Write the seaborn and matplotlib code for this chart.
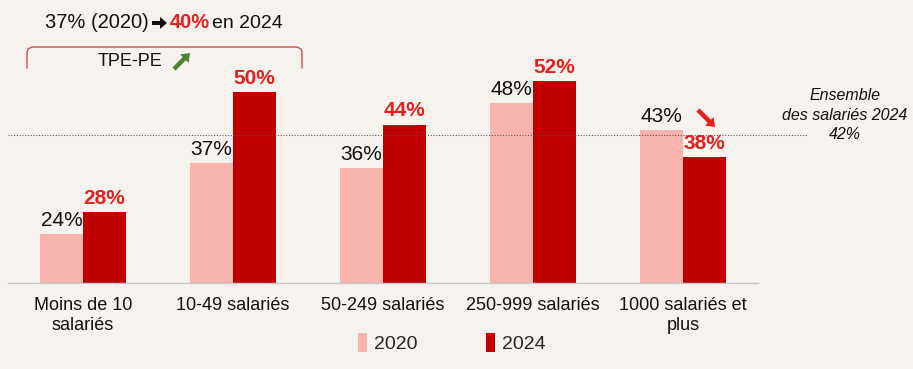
import numpy as np
import pandas as pd
import matplotlib.pyplot as plt
import seaborn as sns
from matplotlib.lines import Line2D
from matplotlib.patches import Patch, FancyArrow

# Data
categories = ["Moins de 10\nsalariés", "10-49 salariés", "50-249 salariés",
              "250-999 salariés", "1000 salariés et\nplus"]
values_2020 = [24, 37, 36, 48, 43]
values_2024 = [28, 50, 44, 52, 38]
years = ["2020", "2024"]
ensemble_2024 = 42

LIGHT = "#f9b4ad"
DARK = "#c00000"
RED_TXT = "#e3211f"
BG = "#f6f3ee"

df = pd.DataFrame({
    "cat": categories * 2,
    "year": [years[0]] * 5 + [years[1]] * 5,
    "val": values_2020 + values_2024,
})

sns.set_style("white")
plt.rcParams["font.family"] = ["Liberation Sans", "DejaVu Sans"]

W, H = 913, 369
fig = plt.figure(figsize=(W / 100, H / 100), dpi=100, facecolor=BG)
ax = fig.add_axes([8 / W, 1 - 283 / H, 800 / W, 283 / H])
ax.set_facecolor(BG)

sns.barplot(data=df, x="cat", y="val", hue="year", order=categories,
            palette=[LIGHT, DARK], width=0.573, saturation=1, ax=ax,
            legend=False, edgecolor="none")

ax.set_xlim(-0.5, 4.5 + 50 / 150)
ax.set_ylim(15, 66.8)
ax.set_yticks([])
ax.set_ylabel("")
ax.set_xlabel("")
for s in ["top", "right", "left"]:
    ax.spines[s].set_visible(False)
ax.spines["bottom"].set_bounds(-0.5, 4.5)
ax.spines["bottom"].set_color("#c8c8c8")
ax.spines["bottom"].set_linewidth(1)
ax.set_xticks(np.arange(-0.5, 5, 1), minor=True)
ax.tick_params(axis="x", which="minor", length=4, color="#c8c8c8", direction="out")
ax.tick_params(axis="x", which="major", length=0, pad=10)
ax.set_xticks(range(5))
ax.set_xticklabels(categories, fontsize=13, linespacing=1.25, color="#111111")

# value labels
for cont, yr in zip(ax.containers, years):
    for bar in cont:
        v = bar.get_height()
        x = bar.get_x() + bar.get_width() / 2
        if yr == "2020":
            ax.annotate(f"{v:.0f}%", (x, v), xytext=(0, 3), textcoords="offset points",
                        ha="center", va="bottom", fontsize=15, color="#111111")
        else:
            ax.annotate(f"{v:.0f}%", (x, v), xytext=(0, 3), textcoords="offset points",
                        ha="center", va="bottom", fontsize=15, color=RED_TXT,
                        fontweight="bold")

# ensemble line
ax.plot([-0.5, 4.5 + 50 / 150], [ensemble_2024, ensemble_2024], ls=(0, (1, 1.5)),
        color="#555555", lw=0.8, clip_on=False, zorder=3)
fig.text(845 / W, 1 - 115 / H, f"Ensemble\ndes salariés 2024\n{ensemble_2024}%",
         ha="center", va="center", fontsize=11.5, style="italic", linespacing=1.4,
         color="#111111")


def arrow(x0, y0, x1, y1, color, tail=4.5, head_w=12, head_l=8):
    # pixel coords (from top-left) -> inches
    fig.add_artist(FancyArrow(x0 / 100, (H - y0) / 100, (x1 - x0) / 100, (y0 - y1) / 100,
                              width=tail / 100, head_width=head_w / 100,
                              head_length=head_l / 100, length_includes_head=True,
                              color=color, lw=0, transform=fig.dpi_scale_trans))


# red arrow near 1000+
arrow(698, 110, 715, 127, RED_TXT)

# top annotation
ty = 1 - 23 / H
fig.text(45 / W, ty, "37% (2020)", ha="left", va="center", fontsize=14.5, color="#111111")
arrow(152, 23, 167, 23, "#111111", tail=4, head_w=12, head_l=7)
fig.text(170 / W, ty, "40%", ha="left", va="center", fontsize=14.5, color=RED_TXT,
         fontweight="bold")
fig.text(212 / W, ty, "en 2024", ha="left", va="center", fontsize=14, color="#111111")

# bracket
bx = [27, 27, 28, 32, 297, 301, 302, 302]
by = [68, 52, 49, 47, 47, 49, 52, 68]
fig.add_artist(Line2D([x / W for x in bx], [1 - y / H for y in by],
                      transform=fig.transFigure, color="#c9504f", lw=1))
fig.text(130 / W, 1 - 61 / H, "TPE-PE", ha="center", va="center", fontsize=13,
         color="#111111")
arrow(174, 69, 190, 53, "#548235")

# legend
handles = [Patch(facecolor=LIGHT, edgecolor="none"), Patch(facecolor=DARK, edgecolor="none")]
fig.legend(handles, years, loc="center", bbox_to_anchor=(452 / W, 1 - 343 / H), ncol=2,
           frameon=False, fontsize=14, handlelength=0.45, handleheight=1.1,
           handletextpad=0.4, columnspacing=3.5)

fig.savefig("out.png", dpi=100, facecolor=BG)
